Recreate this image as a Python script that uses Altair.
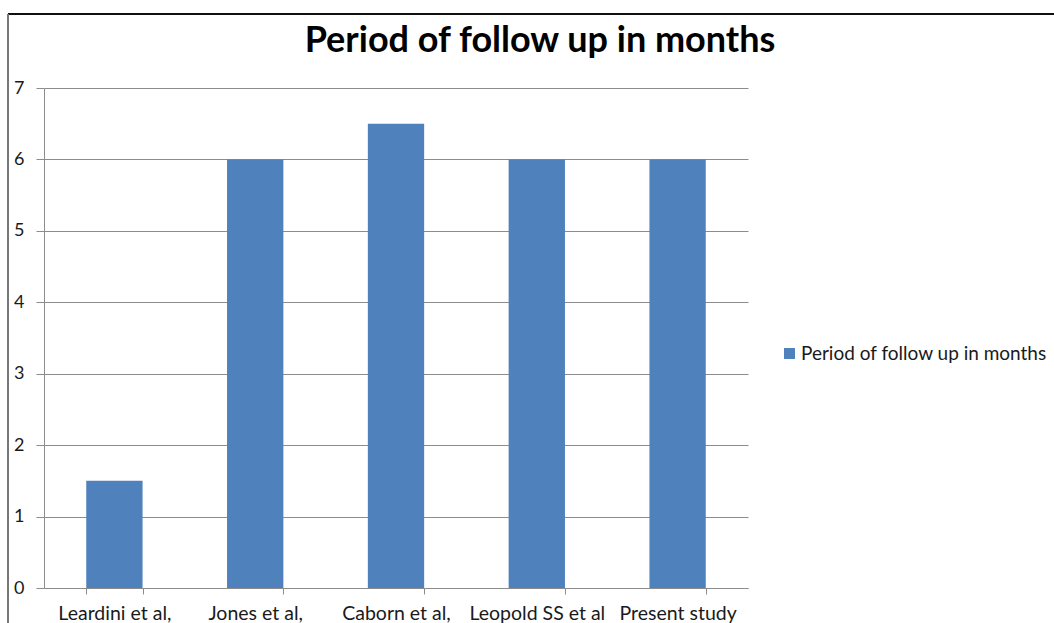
import altair as alt
import pandas as pd

studies = ["Leardini et al,", "Jones et al,", "Caborn et al,", "Leopold SS et al", "Present study"]
months = [1.5, 6, 6.5, 6, 6]
series = "Period of follow up in months"

df = pd.DataFrame({"study": studies, "months": months, "series": series})

FONT = "Lato"
GRID = "#8c8c8c"
INK = "#1a1a1a"

bars = alt.Chart(df).mark_bar(color="#4f81bd").encode(
    x=alt.X(
        "study:N",
        sort=studies,
        scale=alt.Scale(paddingInner=0.6, paddingOuter=0.3),
        axis=alt.Axis(
            title=None, labelAngle=0, labelFont=FONT, labelFontSize=19.5,
            labelColor=INK, labelPadding=10, tickBand="extent",
            tickSize=6, tickColor=GRID, domainColor=GRID, grid=False,
        ),
    ),
    y=alt.Y(
        "months:Q",
        scale=alt.Scale(domain=[0, 7]),
        axis=alt.Axis(
            title=None, values=list(range(8)), labelFont=FONT, labelFontSize=18,
            labelColor=INK, labelPadding=12, tickSize=8, tickColor=GRID,
            domainColor=GRID, gridColor=GRID, gridWidth=1,
        ),
    ),
    color=alt.Color(
        "series:N",
        scale=alt.Scale(range=["#4f81bd"]),
        legend=alt.Legend(
            title=None, orient="none", legendX=736, legendY=256,
            symbolType="square", symbolSize=120, symbolStrokeWidth=0,
            labelFont=FONT, labelFontSize=19, labelColor=INK, labelLimit=400,
            labelOffset=2,
        ),
    ),
)

# chart title, centred over the whole canvas
title = alt.Chart(pd.DataFrame({"t": [series]})).mark_text(
    font=FONT, fontSize=36, fontWeight="bold", color="#000000",
    align="center", baseline="alphabetic",
).encode(text="t:N", x=alt.value(496), y=alt.value(-36))

# outer chart frame: top edge and left edge
frame_top = alt.Chart(df).mark_rule(color="#111111", strokeWidth=1.5).encode(
    x=alt.value(-36), x2=alt.value(1020), y=alt.value(-74)
)
frame_left = alt.Chart(df).mark_rule(color="#777777", strokeWidth=1.5).encode(
    x=alt.value(-36), y=alt.value(-74), y2=alt.value(540)
)

chart = alt.layer(bars, title, frame_top, frame_left).properties(
    width=704,
    height=500,
    padding={"left": 44, "top": 88, "right": 306, "bottom": 35},
    autosize=alt.AutoSizeParams(type="none"),
).configure_view(stroke=None)

chart.save("out.html", embed_options={"renderer": "svg", "actions": False})
